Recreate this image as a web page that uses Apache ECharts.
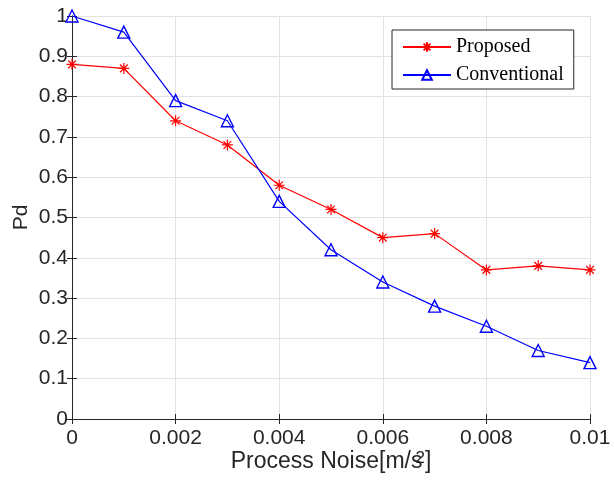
<!DOCTYPE html>
<html>
<head>
<meta charset="utf-8">
<script src="https://cdn.jsdelivr.net/npm/echarts@6/dist/echarts.min.js"></script>
<style>
  html, body { margin: 0; padding: 0; background: #fff; }
  #main { width: 614px; height: 486px; }
</style>
</head>
<body>
<div id="main"></div>
<script>
var noiseList = [0, 0.001, 0.002, 0.003, 0.004, 0.005, 0.006, 0.007, 0.008, 0.009, 0.01];
var proposedList = [0.88, 0.87, 0.74, 0.68, 0.58, 0.52, 0.45, 0.46, 0.37, 0.38, 0.37];
var conventionalList = [1.0, 0.96, 0.79, 0.74, 0.54, 0.42, 0.34, 0.28, 0.23, 0.17, 0.14];

var myChart = echarts.init(document.getElementById('main'));

function pairs(xs, ys) {
    return xs.map(function(x, i) {
        return [x, ys[i]];
    });
}

var axisColor = '#262626';
var starPath = 'path://M0,-10L0,10M-10,0L10,0M-7,-7L7,7M-7,7L7,-7';

option = {
    animation: false,
    grid: {
        left: 72,
        right: 24,
        top: 16,
        bottom: 67
    },
    legend: {
        orient: 'vertical',
        left: 392,
        top: 30,
        itemWidth: 48,
        itemHeight: 12,
        itemGap: 8,
        padding: [7, 10, 4, 10],
        backgroundColor: '#fff',
        borderColor: axisColor,
        borderWidth: 1,
        borderRadius: 0,
        textStyle: {
            fontFamily: 'Liberation Serif',
            fontSize: 20,
            color: '#000'
        },
        data: ['Proposed', 'Conventional']
    },
    xAxis: [{
        type: 'value',
        min: 0,
        max: 0.01,
        interval: 0.002,
        name: 'Process Noise[m/s{sup|2}]',
        nameLocation: 'middle',
        nameMoveOverlap: false,
        nameGap: 31,
        nameTextStyle: {
            fontFamily: 'Liberation Sans',
            fontSize: 23,
            color: axisColor,
            verticalAlign: 'top',
            rich: {
                sup: {
                    fontFamily: 'Liberation Sans',
                    fontSize: 17,
                    color: axisColor,
                    verticalAlign: 'top',
                    padding: [0, 0, 0, -7]
                }
            }
        },
        axisLine: { show: true, lineStyle: { color: axisColor } },
        axisTick: { inside: true, length: 5, lineStyle: { color: axisColor } },
        axisLabel: {
            fontFamily: 'Liberation Sans',
            fontSize: 21,
            color: axisColor,
            margin: 9
        },
        splitLine: { show: true, lineStyle: { color: '#e2e2e2' } }
    }, {
        type: 'value',
        position: 'top',
        min: 0,
        max: 0.01,
        interval: 0.002,
        axisLine: { show: true, lineStyle: { color: axisColor } },
        axisTick: { inside: true, length: 5, lineStyle: { color: axisColor } },
        axisLabel: { show: false },
        splitLine: { show: false }
    }],
    yAxis: [{
        type: 'value',
        min: 0,
        max: 1,
        interval: 0.1,
        name: 'Pd',
        nameLocation: 'middle',
        nameMoveOverlap: false,
        nameGap: 40,
        nameTextStyle: {
            fontFamily: 'Liberation Sans',
            fontSize: 21,
            color: axisColor
        },
        axisLine: { show: true, lineStyle: { color: axisColor } },
        axisTick: { inside: true, length: 5, lineStyle: { color: axisColor } },
        axisLabel: {
            fontFamily: 'Liberation Sans',
            fontSize: 21,
            color: axisColor,
            margin: 4,
            formatter: function(v) {
                return +v.toFixed(1) + '';
            }
        },
        splitLine: { show: true, lineStyle: { color: '#e2e2e2' } }
    }, {
        type: 'value',
        position: 'right',
        min: 0,
        max: 1,
        interval: 0.1,
        axisLine: { show: true, lineStyle: { color: axisColor } },
        axisTick: { inside: true, length: 5, lineStyle: { color: axisColor } },
        axisLabel: { show: false },
        splitLine: { show: false }
    }],
    series: [{
        name: 'Proposed',
        type: 'line',
        data: pairs(noiseList, proposedList),
        symbol: starPath,
        symbolSize: 11,
        lineStyle: { color: '#ff0000', width: 1.2 },
        itemStyle: { color: 'none', borderColor: '#ff0000', borderWidth: 1.2 },
        z: 3
    }, {
        name: 'Conventional',
        type: 'line',
        data: pairs(noiseList, conventionalList),
        symbol: 'triangle',
        symbolSize: 12,
        lineStyle: { color: '#0000ff', width: 1.2 },
        itemStyle: { color: 'none', borderColor: '#0000ff', borderWidth: 1.4 },
        z: 4
    }]
};
myChart.setOption(option);
</script>
</body>
</html>
